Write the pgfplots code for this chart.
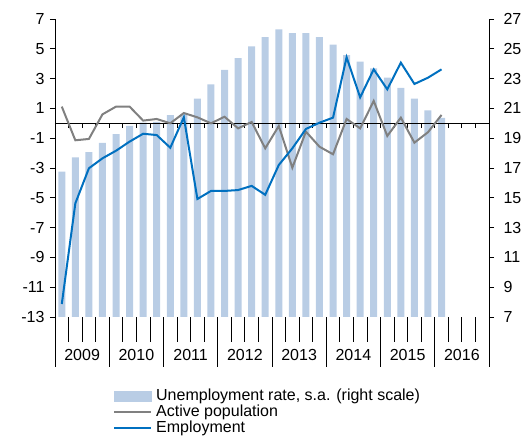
\documentclass[border=0pt]{standalone}
\usepackage{fontspec}
\setmainfont{Liberation Sans}
\usepackage{pgfplots}
\pgfplotsset{compat=1.18}
\definecolor{barblue}{HTML}{B9CDE5}
\definecolor{empblue}{HTML}{0070C0}
\definecolor{actgray}{HTML}{808080}
\pgfplotsset{
  lineleg/.style={legend image code/.code={\draw[##1, line width=2pt] (0pt,0pt) -- (37pt,0pt);}},
  barleg/.style={legend image code/.code={\fill[barblue] (0pt,-5pt) rectangle (37pt,5pt);}},
  base/.style={
    scale only axis, width=434pt, height=298pt,
    xmin=0.5, xmax=32.5,
    tick label style={font=\fontsize{16}{19}\selectfont},
    /pgf/number format/assume math mode=true,
    tick style={black, line width=0.8pt},
    axis line style={black, line width=0.8pt},
  }
}

\begin{document}
\begin{tikzpicture}
% bars, right scale
\begin{axis}[base, name=ax1,
  axis y line*=right, axis x line=none,
  ymin=7, ymax=27, ytick={7,9,...,27},
  ytick align=outside, major tick length=5pt,
  yticklabel style={xshift=6pt},
  ybar, bar width=7pt,
]
\addplot[fill=barblue, draw=none] coordinates {
(1,16.75) (2,17.72) (3,18.07) (4,18.68) (5,19.28) (6,19.82) (7,20.05) (8,20.1)
(9,20.54) (10,20.6) (11,21.65) (12,22.62) (13,23.58) (14,24.38) (15,25.17)
(16,25.79) (17,26.31) (18,26.06) (19,26.06) (20,25.79) (21,25.28) (22,24.58)
(23,24.14) (24,23.69) (25,23.06) (26,22.37) (27,21.65) (28,20.87) (29,20.36)
};
\end{axis}
% x decoration axis
\begin{axis}[base,
  axis x line*=bottom, axis y line=none,
  x axis line style={draw=none},
  ymin=0, ymax=1,
  xtick={1.5,2.5,3.5,5.5,6.5,7.5,9.5,10.5,11.5,13.5,14.5,15.5,17.5,18.5,19.5,21.5,22.5,23.5,25.5,26.5,27.5,29.5,30.5,31.5},
  xticklabels={,2009,,,2010,,,2011,,,2012,,,2013,,,2014,,,2015,,,2016,},
  xticklabel style={yshift=-4pt},
  xtick align=outside, major tick length=25pt,
  extra x ticks={0.5,4.5,8.5,12.5,16.5,20.5,24.5,28.5,32.5},
  extra x tick labels={},
  extra x tick style={major tick length=50pt},
]
\end{axis}
% lines, left scale
\begin{axis}[base,
  axis y line*=left, axis x line=none,
  ymin=-13, ymax=7, ytick={-13,-11,...,7},
  ytick align=outside, major tick length=5pt,
  yticklabel style={xshift=-2pt},
  legend style={at={(0.1336,-0.238)}, anchor=north west, draw=none, fill=none,
    font=\fontsize{16}{18}\selectfont, row sep=0pt, column sep=3pt, inner sep=0pt,
    nodes={text height=11pt, text depth=3pt, inner sep=1pt},
    cells={anchor=west}},
  legend cell align=left,
]
\addlegendimage{barleg}
\addlegendentry{Unemployment rate, s.a. (right scale)}
\draw[black, line width=0.8pt] (axis cs:0.5,0) -- (axis cs:32.5,0);
\pgfplotsinvokeforeach{1,...,31}{\draw[black, line width=0.8pt] (axis cs:#1.5,0) -- ++(0pt,-5pt);}
\addplot[actgray, line width=2pt, no markers, lineleg] coordinates {
(1,1.12) (2,-1.14) (3,-1.05) (4,0.6) (5,1.12) (6,1.12) (7,0.18) (8,0.29)
(9,0.0) (10,0.69) (11,0.4) (12,0.0) (13,0.44) (14,-0.34) (15,0.09) (16,-1.68)
(17,-0.18) (18,-2.98) (19,-0.56) (20,-1.57) (21,-2.08) (22,0.29) (23,-0.34)
(24,1.5) (25,-0.85) (26,0.38) (27,-1.3) (28,-0.6) (29,0.56)
};
\addlegendentry{Active population}
\addplot[empblue, line width=2pt, no markers, lineleg] coordinates {
(1,-12.13) (2,-5.37) (3,-3.02) (4,-2.35) (5,-1.84) (6,-1.23) (7,-0.7) (8,-0.79)
(9,-1.64) (10,0.4) (11,-5.08) (12,-4.54) (13,-4.54) (14,-4.48) (15,-4.2) (16,-4.8)
(17,-2.8) (18,-1.68) (19,-0.38) (20,0.04) (21,0.38) (22,4.43) (23,1.74)
(24,3.62) (25,2.28) (26,4.07) (27,2.64) (28,3.06) (29,3.62)
};
\addlegendentry{Employment}
\end{axis}
\pgfresetboundingbox
\path (ax1.south west) ++(-55pt,-121pt) rectangle ++(529pt,438pt);
\end{tikzpicture}
\end{document}
